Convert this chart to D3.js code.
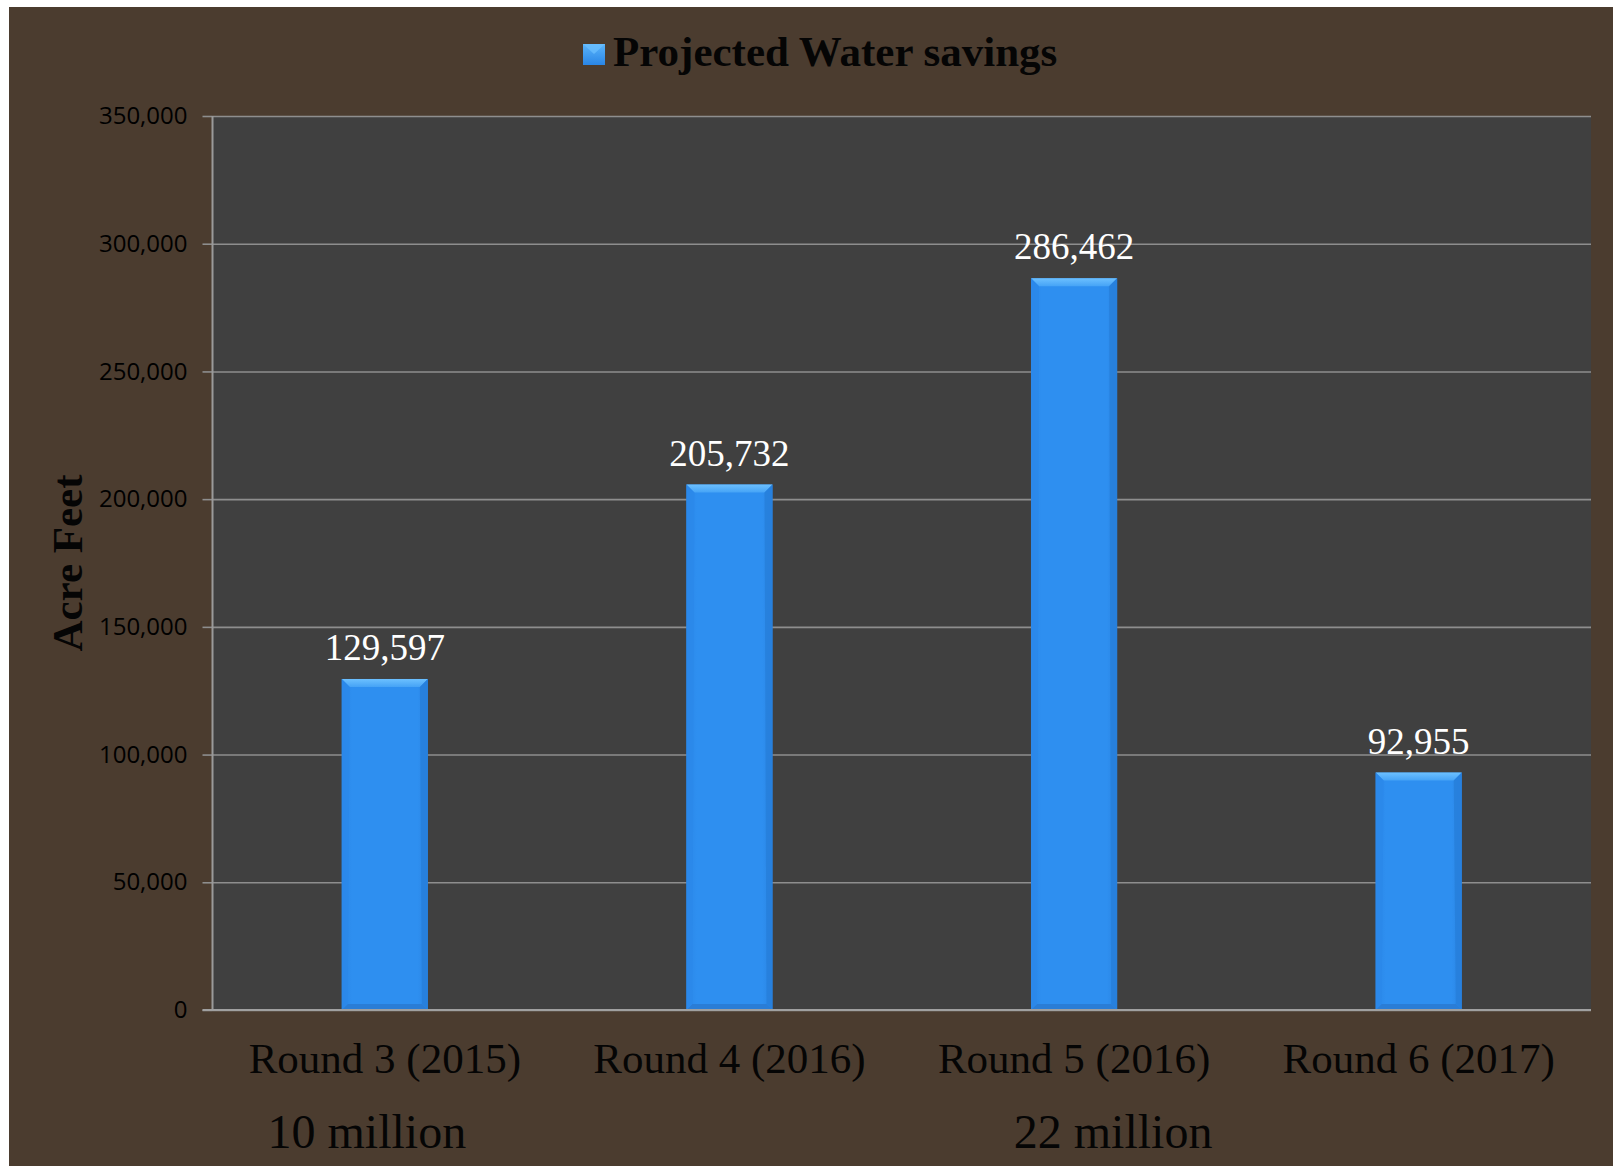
<!DOCTYPE html>
<html>
<head>
<meta charset="utf-8">
<script src="https://cdn.jsdelivr.net/npm/d3@7"></script>
<style>
  html, body { margin: 0; padding: 0; background: #ffffff; }
  svg { display: block; }
</style>
</head>
<body>
<div id="chart"></div>
<script>
// ---- Data ----
const categories = ["Round 3 (2015)", "Round 4 (2016)", "Round 5 (2016)", "Round 6 (2017)"];
const waterSavings = [129597, 205732, 286462, 92955];
const seriesName = "Projected Water savings";
const yTicks = [0, 50000, 100000, 150000, 200000, 250000, 300000, 350000];
const yAxisTitle = "Acre Feet";
const annotations = ["10 million", "22 million"];
const annotationAnchors = ["Round 3 (2015)", "Round 5 (2016)"];

// ---- Layout ----
const W = 1614, H = 1167;
const plot = { left: 212.5, right: 1591, top: 116, bottom: 1010 };

const svg = d3.select("#chart").append("svg")
  .attr("width", W).attr("height", H);

const defs = svg.append("defs");
const gBody = defs.append("linearGradient").attr("id", "barBody")
  .attr("x1", "0").attr("x2", "1").attr("y1", "0").attr("y2", "0");
gBody.append("stop").attr("offset", "0").attr("stop-color", "#2a86e6");
gBody.append("stop").attr("offset", "0.12").attr("stop-color", "#2e8ff0");
gBody.append("stop").attr("offset", "0.88").attr("stop-color", "#2e8ff0");
gBody.append("stop").attr("offset", "1").attr("stop-color", "#2a84e2");
const gTop = defs.append("linearGradient").attr("id", "barTop")
  .attr("x1", "0").attr("x2", "0").attr("y1", "0").attr("y2", "1");
gTop.append("stop").attr("offset", "0").attr("stop-color", "#6cc0ff");
gTop.append("stop").attr("offset", "1").attr("stop-color", "#45a3f6");
const gLeg = defs.append("linearGradient").attr("id", "legGrad")
  .attr("x1", "0").attr("x2", "0").attr("y1", "0").attr("y2", "1");
gLeg.append("stop").attr("offset", "0").attr("stop-color", "#5ab4fb");
gLeg.append("stop").attr("offset", "1").attr("stop-color", "#2a86e6");

// background
svg.append("rect").attr("x", 0).attr("y", 0).attr("width", W).attr("height", H).attr("fill", "#ffffff");
svg.append("rect").attr("x", 9).attr("y", 7).attr("width", W - 10).attr("height", H - 8).attr("fill", "#4b3c2f");
svg.append("rect").attr("x", plot.left).attr("y", plot.top)
  .attr("width", plot.right - plot.left).attr("height", plot.bottom - plot.top)
  .attr("fill", "#404040");

// scales
const x = d3.scaleBand().domain(categories).range([plot.left, plot.right]).paddingInner(0).paddingOuter(0);
const y = d3.scaleLinear().domain([0, 350000]).range([plot.bottom, plot.top]);
const barW = x.bandwidth() * 0.25;

// gridlines + y axis
const yAxis = d3.axisLeft(y).tickValues(yTicks).tickSize(-(plot.right - plot.left)).tickPadding(25)
  .tickFormat(d3.format(","));
const gy = svg.append("g").attr("transform", `translate(${plot.left},0)`).call(yAxis);
gy.select(".domain").remove();
gy.selectAll(".tick line").attr("stroke", "#8e8e8e").attr("stroke-width", 1.6);
gy.selectAll(".tick text")
  .attr("fill", "#000000")
  .style("font-family", "'Open Sans', sans-serif")
  .style("font-size", "24px");
// small outward ticks
gy.selectAll(".tick").append("line")
  .attr("x1", -10).attr("x2", 0).attr("stroke", "#8e8e8e").attr("stroke-width", 1.6);

// axis lines
svg.append("line").attr("x1", plot.left).attr("x2", plot.left)
  .attr("y1", plot.top).attr("y2", plot.bottom)
  .attr("stroke", "#9a9a9a").attr("stroke-width", 2);

// bars
const bars = svg.append("g").selectAll("g.bar").data(categories.map((c, i) => ({ c, v: waterSavings[i] })))
  .enter().append("g").attr("class", "bar");
const bev = 8;
bars.append("rect")
  .attr("x", d => x(d.c) + x.bandwidth() / 2 - barW / 2)
  .attr("y", d => y(d.v))
  .attr("width", barW)
  .attr("height", d => y(0) - y(d.v))
  .attr("fill", "url(#barBody)");
// top bevel
bars.append("polygon")
  .attr("points", d => {
    const x0 = x(d.c) + x.bandwidth() / 2 - barW / 2, x1 = x0 + barW, t = y(d.v);
    return [[x0, t], [x1, t], [x1 - bev, t + bev], [x0 + bev, t + bev]].map(p => p.join(",")).join(" ");
  })
  .attr("fill", "url(#barTop)");
// bottom bevel
bars.append("polygon")
  .attr("points", d => {
    const x0 = x(d.c) + x.bandwidth() / 2 - barW / 2, x1 = x0 + barW, b = y(0);
    return [[x0, b], [x1, b], [x1 - 6, b - 6], [x0 + 6, b - 6]].map(p => p.join(",")).join(" ");
  })
  .attr("fill", "#2a7dd6");
// left edge shade
bars.append("polygon")
  .attr("points", d => {
    const x0 = x(d.c) + x.bandwidth() / 2 - barW / 2, t = y(d.v), b = y(0);
    return [[x0, t], [x0 + bev, t + bev], [x0 + 6, b - 6], [x0, b]].map(p => p.join(",")).join(" ");
  })
  .attr("fill", "#2b88ea").attr("opacity", 0.9);
// right edge shade
bars.append("polygon")
  .attr("points", d => {
    const x1 = x(d.c) + x.bandwidth() / 2 + barW / 2, t = y(d.v), b = y(0);
    return [[x1, t], [x1 - bev, t + bev], [x1 - 6, b - 6], [x1, b]].map(p => p.join(",")).join(" ");
  })
  .attr("fill", "#2780dc").attr("opacity", 0.9);

// bottom axis line
svg.append("line").attr("x1", plot.left - 10).attr("x2", plot.right)
  .attr("y1", plot.bottom).attr("y2", plot.bottom)
  .attr("stroke", "#a0a0a0").attr("stroke-width", 2);

// value labels
bars.append("text")
  .attr("x", d => x(d.c) + x.bandwidth() / 2)
  .attr("y", d => y(d.v) - 19)
  .attr("text-anchor", "middle")
  .attr("fill", "#ffffff")
  .style("font-family", "'Liberation Serif', 'Times New Roman', serif")
  .style("font-size", "37px")
  .text(d => d3.format(",")(d.v));

// category labels
const xAxis = d3.axisBottom(x).tickSize(0).tickPadding(0);
const gx = svg.append("g").attr("transform", `translate(0,${plot.bottom})`).call(xAxis);
gx.select(".domain").remove();
gx.selectAll(".tick text")
  .attr("y", 63).attr("dy", 0)
  .attr("fill", "#050505")
  .style("font-family", "'Liberation Serif', 'Times New Roman', serif")
  .style("font-size", "43px");

// annotations
const annOffsets = [-18, 39];
svg.append("g").selectAll("text").data(annotations).enter().append("text")
  .attr("x", (d, i) => x(annotationAnchors[i]) + x.bandwidth() / 2 + annOffsets[i])
  .attr("y", 1148)
  .attr("text-anchor", "middle")
  .attr("fill", "#050505")
  .style("font-family", "'Liberation Serif', 'Times New Roman', serif")
  .style("font-size", "48px")
  .text(d => d);

// y axis title
svg.append("text")
  .attr("transform", "translate(82,563) rotate(-90)")
  .attr("text-anchor", "middle")
  .attr("fill", "#050505")
  .style("font-family", "'Liberation Serif', 'Times New Roman', serif")
  .style("font-weight", "bold")
  .style("font-size", "43px")
  .text(yAxisTitle);

// legend
const leg = svg.append("g");
leg.append("rect").attr("x", 583).attr("y", 44).attr("width", 22).attr("height", 21)
  .attr("fill", "url(#legGrad)");
leg.append("polygon").attr("points", "583,44 605,44 594,54").attr("fill", "#6cc0ff").attr("opacity", 0.7);
leg.append("text")
  .attr("x", 613).attr("y", 66)
  .attr("fill", "#050505")
  .style("font-family", "'Liberation Serif', 'Times New Roman', serif")
  .style("font-weight", "bold")
  .style("font-size", "43px")
  .text(seriesName);
</script>
</body>
</html>
